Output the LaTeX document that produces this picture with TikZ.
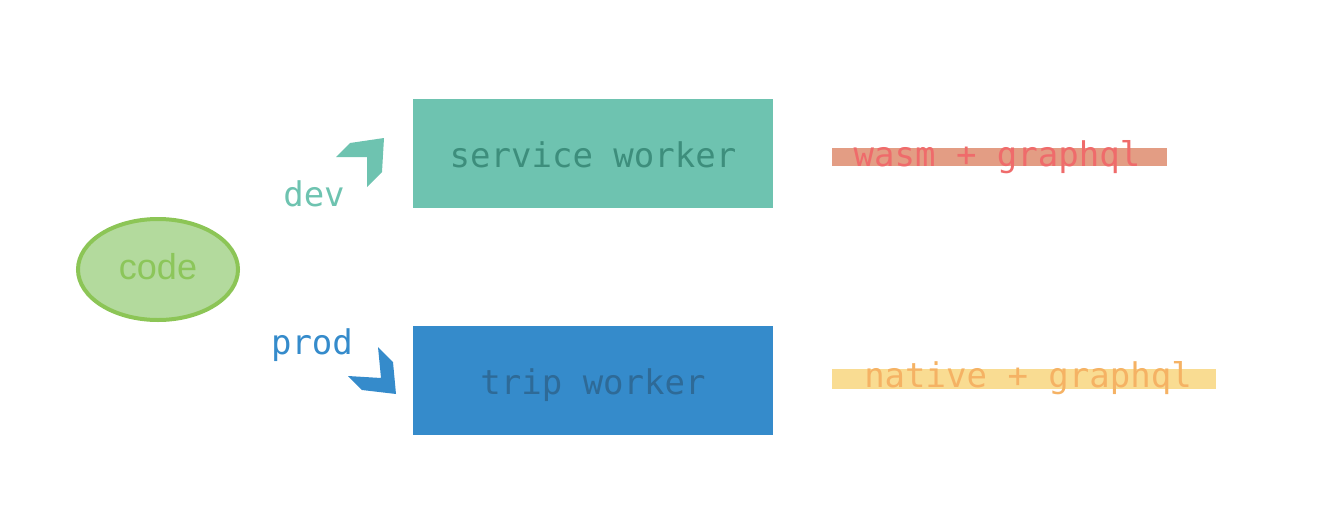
\documentclass[tikz,border=0pt]{standalone}
\usepackage{fontspec}
\setmainfont{Liberation Sans}
\setmonofont{DejaVu Sans Mono}
\usetikzlibrary{shapes.geometric}
\definecolor{codefill}{HTML}{B3DA9D}
\definecolor{codeline}{HTML}{8CC556}
\definecolor{codetext}{HTML}{8CC65A}
\definecolor{devfill}{HTML}{6EC3B0}
\definecolor{devtext}{HTML}{3D8E7C}
\definecolor{prodfill}{HTML}{358BCB}
\definecolor{prodtext}{HTML}{2E6A97}
\definecolor{wasmbar}{HTML}{E39D84}
\definecolor{wasmtext}{HTML}{EF6B6B}
\definecolor{nativebar}{HTML}{F9DC92}
\definecolor{nativetext}{HTML}{F5B264}
\tikzset{
	mono/.style={font=\ttfamily\fontsize{34}{40}\selectfont, inner sep=0pt},
	worker/.style={mono, minimum width=360, minimum height=109, text height=27, text depth=0}
}

\begin{document}
\begin{tikzpicture}[x=1pt, y=-1pt]
		%%%%% START %%%%%
		\useasboundingbox (0, 0) rectangle (1334, 531);
		
		\node[ellipse, draw=codeline, line width=4, fill=codefill, minimum width=160, minimum height=101, text=codetext, font=\fontsize{36}{40}\selectfont, text height=20, text depth=0, inner sep=0pt] (code) at (158, 269.5) {code};
		
		\node[worker, fill=devfill, text=devtext] (sw) at (593, 153.5) {service worker};
		\node[worker, fill=prodfill, text=prodtext] (tw) at (593, 380.5) {trip worker};
		
		\fill[devfill] (384, 138) -- (382, 172) -- (367, 187) -- (367, 157) -- (336, 157) -- (350, 143) -- cycle;
		\node[mono, text=devfill, anchor=base] (dev) at (314, 206) {dev};
		
		\fill[prodfill] (378, 347) -- (393, 362) -- (396, 394) -- (362, 390) -- (348, 376) -- (381, 378) -- cycle;
		\node[mono, text=prodfill, anchor=base] (prod) at (312, 354) {prod};
		
		\fill[wasmbar] (832, 148) rectangle (1167, 165.5);
		\node[mono, text=wasmtext, anchor=base] (wasm) at (997, 166) {wasm + graphql};
		
		\fill[nativebar] (832, 369) rectangle (1216, 388.5);
		\node[mono, text=nativetext, anchor=base] (native) at (1028, 387) {native + graphql};
		
		%%%%% END %%%%%
	\end{tikzpicture}
\end{document}
